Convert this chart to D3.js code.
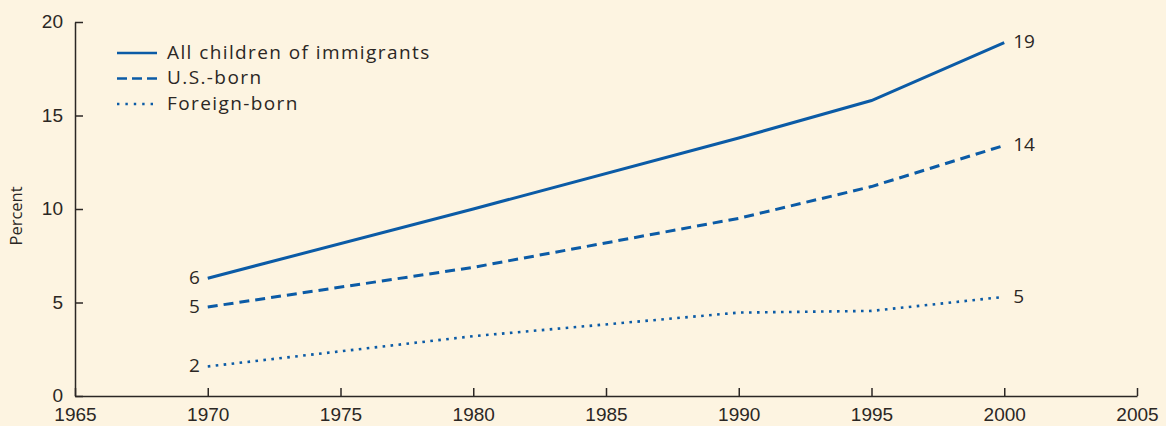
<!DOCTYPE html>
<html>
<head>
<meta charset="utf-8">
<script src="https://cdn.jsdelivr.net/npm/d3@7"></script>
<style>
  html, body { margin: 0; padding: 0; background: #fdf4e1; }
  svg { display: block; font-family: 'Open Sans', 'Liberation Sans', Arial, sans-serif; }
</style>
</head>
<body>
<div id="chart"></div>
<script>
// Children of immigrants as share of all children, 1970-2000.

const years = [1970, 1980, 1990, 1995, 2000];
const allChildren = [6.3, 10.0, 13.8, 15.8, 18.9];
const usBorn = [4.76, 6.88, 9.5, 11.2, 13.4];
const foreignBorn = [1.58, 3.2, 4.46, 4.55, 5.3];

const seriesNames = ['All children of immigrants', 'U.S.-born', 'Foreign-born'];
const startLabels = ['6', '5', '2'];
const endLabels = ['19', '14', '5'];

const xTicks = [1965, 1970, 1975, 1980, 1985, 1990, 1995, 2000, 2005];
const yTicks = [0, 5, 10, 15, 20];

const W = 1166, H = 426;
const M = { top: 22, right: 29, bottom: 30, left: 75 };
const innerW = W - M.left - M.right;
const innerH = H - M.top - M.bottom;

const INK = '#2b2724';
const BLUE = '#0b5ba6';
const DASH = ['none', '10,6', '2.6,5.4'];
const FS = 19;

const x = d3.scaleLinear().domain([1965, 2005]).range([0, innerW]);
const y = d3.scaleLinear().domain([0, 20]).range([innerH, 0]);

const svg = d3.select('#chart').append('svg')
  .attr('width', W).attr('height', H)
  .attr('viewBox', `0 0 ${W} ${H}`);

const g = svg.append('g').attr('transform', `translate(${M.left},${M.top})`);

// --- Axes ---
g.append('g')
  .attr('transform', `translate(0,${innerH})`)
  .call(d3.axisBottom(x).tickValues(xTicks).tickFormat(d3.format('d')).tickSizeInner(-8).tickSizeOuter(0).tickPadding(12))
  .call(ax => ax.select('.domain').attr('stroke', INK).attr('stroke-width', 1.5))
  .call(ax => ax.selectAll('.tick line').attr('stroke', INK).attr('stroke-width', 1.5))
  .call(ax => ax.selectAll('.tick text').attr('fill', INK).attr('font-size', FS));

g.append('g')
  .call(d3.axisLeft(y).tickValues(yTicks).tickSizeInner(-8).tickSizeOuter(0).tickPadding(12))
  .call(ax => ax.select('.domain').attr('stroke', INK).attr('stroke-width', 1.5))
  .call(ax => ax.selectAll('.tick line').attr('stroke', INK).attr('stroke-width', 1.5))
  .call(ax => ax.selectAll('.tick text').attr('fill', INK).attr('font-size', FS).attr('dy', '0.3em'));

svg.append('text')
  .attr('transform', `translate(22,216) rotate(-90)`)
  .attr('text-anchor', 'middle')
  .attr('fill', INK).attr('font-size', 16.5)
  .text('Percent');

// --- Lines ---
const data = [allChildren, usBorn, foreignBorn];
const line = d3.line()
  .x((d, i) => x(years[i]))
  .y(d => y(d));

data.forEach((vals, k) => {
  g.append('path')
    .datum(vals)
    .attr('d', line)
    .attr('fill', 'none')
    .attr('stroke', BLUE)
    .attr('stroke-width', k === 2 ? 2.6 : 3)
    .attr('stroke-dasharray', DASH[k]);

  g.append('text')
    .attr('x', x(years[0]) - 8)
    .attr('y', y(vals[0]))
    .attr('dy', '0.3em')
    .attr('text-anchor', 'end')
    .attr('fill', INK).attr('font-size', FS)
    .text(startLabels[k]);

  const last = vals.length - 1;
  g.append('text')
    .attr('x', x(years[last]) + 9)
    .attr('y', y(vals[last]))
    .attr('dy', '0.3em')
    .attr('fill', INK).attr('font-size', FS)
    .text(endLabels[k]);
});

// --- Legend ---
const legend = svg.append('g').attr('transform', 'translate(117,53)');
seriesNames.forEach((name, k) => {
  const row = legend.append('g').attr('transform', `translate(0,${k * 25.5})`);
  row.append('line')
    .attr('x1', 0).attr('x2', 40)
    .attr('stroke', BLUE)
    .attr('stroke-width', k === 2 ? 2.4 : 2.6)
    .attr('stroke-dasharray', k === 1 ? '10,5' : (k === 2 ? '2.4,6' : 'none'));
  row.append('text')
    .attr('x', 50).attr('dy', '0.3em')
    .attr('fill', INK).attr('font-size', FS)
    .attr('letter-spacing', 1.4)
    .text(name);
});
</script>
</body>
</html>
